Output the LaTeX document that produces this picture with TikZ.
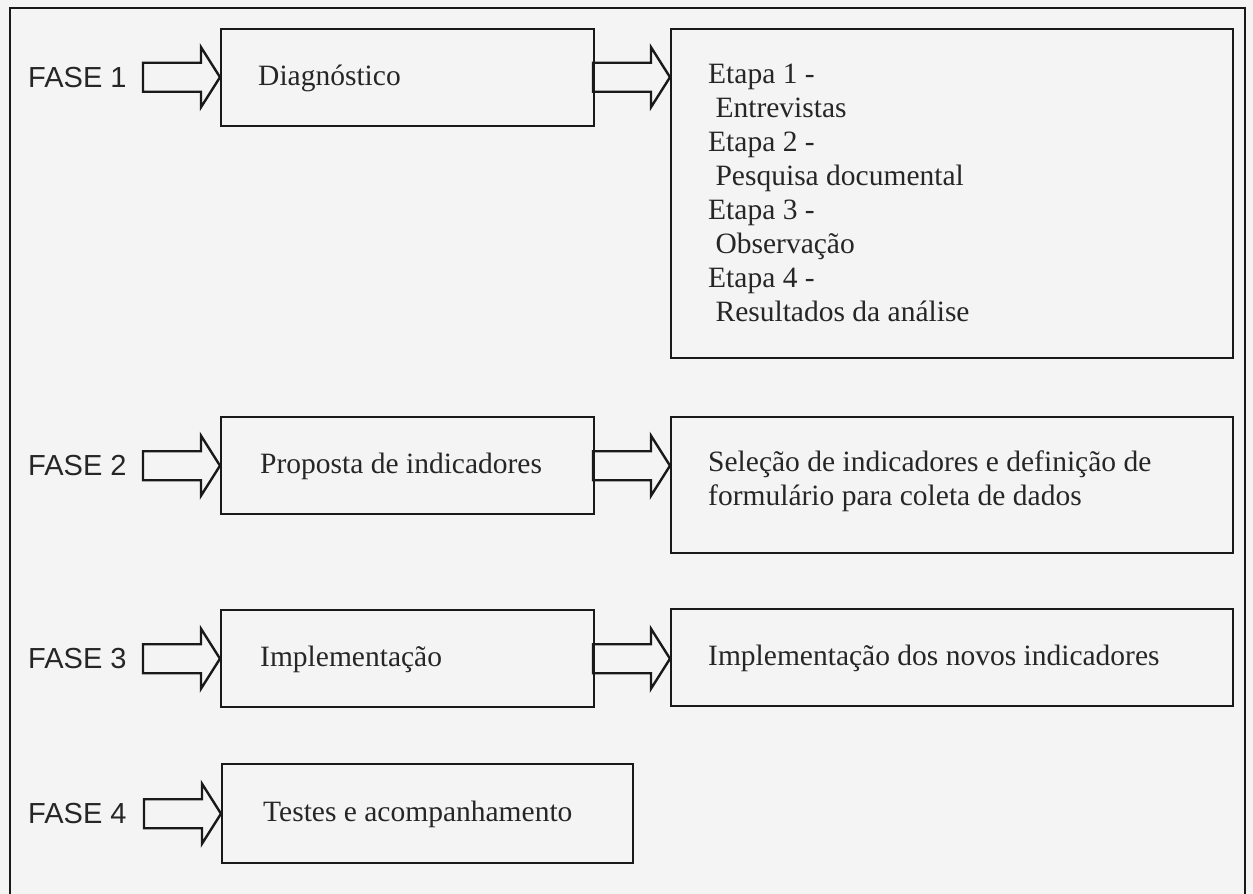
\documentclass[tikz,border=0pt]{standalone}
\usepackage{fontspec}
\setmainfont{Liberation Serif}
\newfontfamily\arialf{Liberation Sans}
\usetikzlibrary{calc}
\definecolor{bg}{RGB}{244,244,244}
\definecolor{ink}{RGB}{25,25,25}
\definecolor{txt}{RGB}{38,38,38}
\newcommand{\blockarr}[1]{%
  \draw[arr] ($(#1)+(-77,14.5)$) -- ($(#1)+(-19,14.5)$) -- ($(#1)+(-19,30)$) -- (#1)
    -- ($(#1)+(-19,-30)$) -- ($(#1)+(-19,-14.5)$) -- ($(#1)+(-77,-14.5)$) -- cycle;}
\begin{document}
\begin{tikzpicture}[x=1pt,y=-1pt,
  box/.style={draw=ink,line width=2.4pt,rectangle,inner sep=0pt,anchor=north west},
  serif/.style={font=\fontsize{29.5}{34}\selectfont,text=txt,inner sep=0pt,anchor=base west},
  fase/.style={font=\arialf\fontsize{29}{32}\selectfont,text=txt,inner sep=0pt,anchor=base west},
  arr/.style={draw=ink,line width=2.4pt,line join=miter}]
\fill[bg] (0,0) rectangle (1253,894);
\useasboundingbox (0,0) rectangle (1253,894);
\draw[ink,line width=2.2pt] (10,8) rectangle (1245,905);

% boxes
\node[box,minimum width=373pt,minimum height=97pt] (A1) at (220,27.5) {};
\node[box,minimum width=373pt,minimum height=97pt] (A2) at (220,416) {};
\node[box,minimum width=373pt,minimum height=97pt] (A3) at (220,609) {};
\node[box,minimum width=411pt,minimum height=99pt] (A4) at (221,763) {};
\node[box,minimum width=562pt,minimum height=329pt] (B1) at (670,28) {};
\node[box,minimum width=562pt,minimum height=136pt] (B2) at (670,416) {};
\node[box,minimum width=562pt,minimum height=97pt] (B3) at (670,608) {};

% left texts
\node[serif] (tA1) at ($(A1.west)+(38,8)$) {Diagnóstico};
\node[serif] (tA2) at ($(A2.west)+(40,8)$) {Proposta de indicadores};
\node[serif] (tA3) at ($(A3.west)+(40,8)$) {Implementação};
\node[serif] (tA4) at ($(A4.west)+(42,8)$) {Testes e acompanhamento};

% FASE labels
\node[fase] (F1) at ($(A1.west)+(-192,10)$) {FASE 1};
\node[fase] (F2) at ($(A2.west)+(-192,10)$) {FASE 2};
\node[fase] (F3) at ($(A3.west)+(-192,10)$) {FASE 3};
\node[fase] (F4) at ($(A4.west)+(-193,10)$) {FASE 4};

% B1 lines
\node[serif] (b1a) at ($(B1.north west)+(38,55)$) {Etapa 1 -};
\node[serif] (b1b) at ($(B1.north west)+(38,89)$) {\ Entrevistas};
\node[serif] (b1c) at ($(B1.north west)+(38,123)$) {Etapa 2 -};
\node[serif] (b1d) at ($(B1.north west)+(38,157)$) {\ Pesquisa documental};
\node[serif] (b1e) at ($(B1.north west)+(38,191)$) {Etapa 3 -};
\node[serif] (b1f) at ($(B1.north west)+(38,225)$) {\ Observação};
\node[serif] (b1g) at ($(B1.north west)+(38,259)$) {Etapa 4 -};
\node[serif] (b1h) at ($(B1.north west)+(38,293)$) {\ Resultados da análise};

% B2 lines
\node[serif] (b2a) at ($(B2.north west)+(38,55)$) {Seleção de indicadores e definição de};
\node[serif] (b2b) at ($(B2.north west)+(38,89)$) {formulário para coleta de dados};

% B3
\node[serif] (b3a) at ($(B3.west)+(38,8)$) {Implementação dos novos indicadores};

% arrows
\blockarr{A1.west}
\blockarr{A2.west}
\blockarr{A3.west}
\blockarr{A4.west}
\coordinate (t1) at (A1.east -| B1.west);
\coordinate (t2) at (A2.east -| B2.west);
\coordinate (t3) at (A3.east -| B3.west);
\blockarr{t1}
\blockarr{t2}
\blockarr{t3}
\end{tikzpicture}
\end{document}
